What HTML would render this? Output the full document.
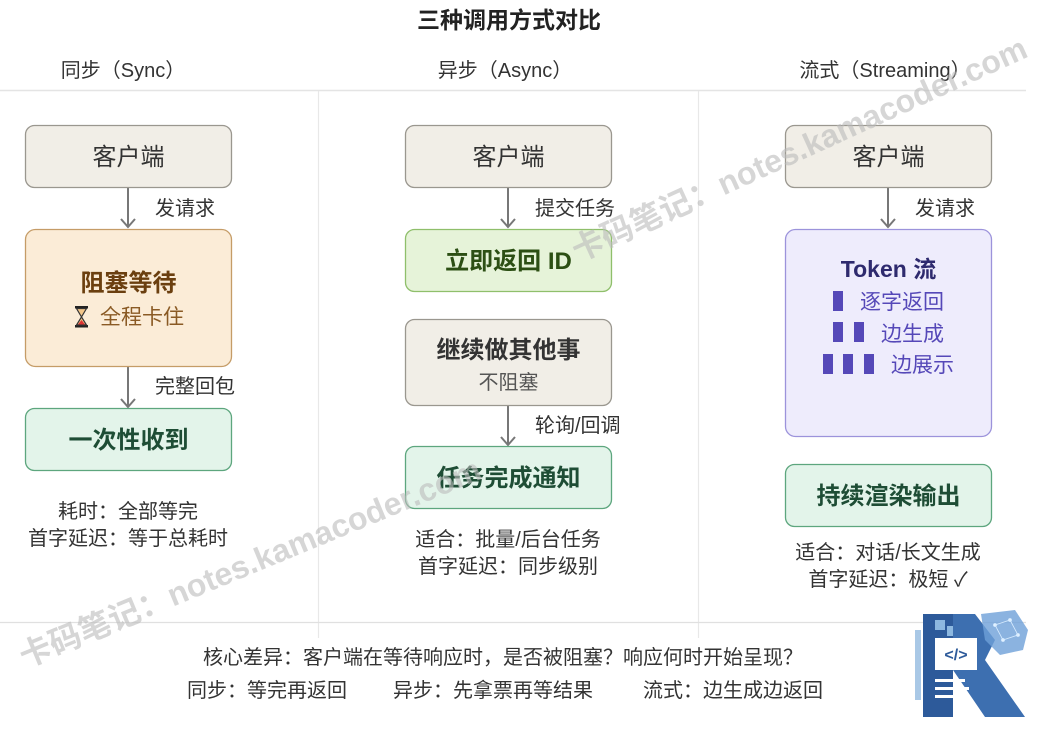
<!DOCTYPE html>
<html><head><meta charset="utf-8"><style>
html,body{margin:0;padding:0;background:#fff;}
svg text{font-family:"Liberation Sans","Noto Sans CJK SC",sans-serif;}
</style></head><body>
<svg width="1039" height="727" viewBox="0 0 1039 727" xmlns="http://www.w3.org/2000/svg">
<rect width="1039" height="727" fill="#fff"/>
<text x="509" y="28" font-size="23" font-weight="bold" fill="#222" text-anchor="middle">三种调用方式对比</text>
<g font-size="20" fill="#333" text-anchor="middle">
<text x="123" y="77">同步（Sync）</text>
<text x="505" y="77">异步（Async）</text>
<text x="885" y="77">流式（Streaming）</text>
</g>
<line x1="0" y1="90.5" x2="1026" y2="90.5" stroke="#e4e4e4" stroke-width="1.5"/>
<line x1="318.5" y1="91" x2="318.5" y2="638" stroke="#e8e8e8" stroke-width="1.2"/>
<line x1="698.5" y1="91" x2="698.5" y2="638" stroke="#e8e8e8" stroke-width="1.2"/>
<line x1="0" y1="622.5" x2="1026" y2="622.5" stroke="#e0e0e0" stroke-width="1.2"/>

<!-- arrows -->
<g stroke="#777" stroke-width="2" fill="none">
<path d="M128 187V227M121 219L128 227L135 219"/>
<path d="M128 366V407M121 399L128 407L135 399"/>
<path d="M508 187V227M501 219L508 227L515 219"/>
<path d="M508 405V445M501 437L508 445L515 437"/>
<path d="M888 187V227M881 219L888 227L895 219"/>
</g>
<g font-size="20" fill="#333">
<text x="155" y="215">发请求</text>
<text x="155" y="393">完整回包</text>
<text x="535" y="215">提交任务</text>
<text x="535" y="432">轮询/回调</text>
<text x="915" y="215">发请求</text>
</g>

<!-- column 1 -->
<rect x="25.5" y="125.5" width="206" height="62" rx="9" fill="#f1eee7" stroke="#9a978f" stroke-width="1.3"/>
<text x="128.5" y="165" font-size="24" fill="#333" text-anchor="middle">客户端</text>
<rect x="25.5" y="229.5" width="206" height="137" rx="10" fill="#fbecd7" stroke="#c59c67" stroke-width="1.3"/>
<text x="128.5" y="291" font-size="24" font-weight="bold" fill="#6b3f0f" text-anchor="middle">阻塞等待</text>
<text x="142" y="324" font-size="21" fill="#8a5a24" text-anchor="middle">全程卡住</text>
<g transform="translate(75,306)">
<rect x="0" y="0" width="13" height="2.5" fill="#222"/><rect x="0" y="19" width="13" height="2.5" fill="#222"/>
<path d="M1.5 2.5L11.5 2.5L6.5 11L11.5 19L1.5 19L6.5 11Z" fill="#f2c68a" stroke="#333" stroke-width="1.2"/>
<path d="M3 18.5L10 18.5L6.5 14Z" fill="#d33"/>
</g>
<rect x="25.5" y="408.5" width="206" height="62" rx="9" fill="#e3f4ea" stroke="#5da67e" stroke-width="1.3"/>
<text x="128.5" y="448" font-size="24" font-weight="bold" fill="#1e4d35" text-anchor="middle">一次性收到</text>
<g font-size="20" fill="#333" text-anchor="middle">
<text x="128" y="518">耗时：全部等完</text>
<text x="128" y="545">首字延迟：等于总耗时</text>
</g>

<!-- column 2 -->
<rect x="405.5" y="125.5" width="206" height="62" rx="9" fill="#f1eee7" stroke="#9a978f" stroke-width="1.3"/>
<text x="508.5" y="165" font-size="24" fill="#333" text-anchor="middle">客户端</text>
<rect x="405.5" y="229.5" width="206" height="62" rx="9" fill="#e6f3d9" stroke="#8fbf6b" stroke-width="1.3"/>
<text x="508.5" y="269" font-size="24" font-weight="bold" fill="#2c4f14" text-anchor="middle">立即返回 ID</text>
<rect x="405.5" y="319.5" width="206" height="86" rx="9" fill="#f1eee7" stroke="#9a978f" stroke-width="1.3"/>
<text x="508.5" y="358" font-size="24" font-weight="bold" fill="#333" text-anchor="middle">继续做其他事</text>
<text x="508.5" y="389" font-size="20" fill="#555" text-anchor="middle">不阻塞</text>
<rect x="405.5" y="446.5" width="206" height="62" rx="9" fill="#e3f4ea" stroke="#5da67e" stroke-width="1.3"/>
<text x="508.5" y="486" font-size="24" font-weight="bold" fill="#1e4d35" text-anchor="middle">任务完成通知</text>
<g font-size="20" fill="#333" text-anchor="middle">
<text x="508" y="546">适合：批量/后台任务</text>
<text x="508" y="573">首字延迟：同步级别</text>
</g>

<!-- column 3 -->
<rect x="785.5" y="125.5" width="206" height="62" rx="9" fill="#f1eee7" stroke="#9a978f" stroke-width="1.3"/>
<text x="888.5" y="165" font-size="24" fill="#333" text-anchor="middle">客户端</text>
<rect x="785.5" y="229.5" width="206" height="207" rx="10" fill="#eeecfc" stroke="#9c93db" stroke-width="1.3"/>
<text x="888.5" y="277" font-size="23" font-weight="bold" fill="#2e2a6e" text-anchor="middle">Token 流</text>
<g fill="#5548b8">
<rect x="833" y="291" width="10" height="20"/>
<rect x="833" y="322" width="10" height="20"/><rect x="854" y="322" width="10" height="20"/>
<rect x="823" y="354" width="10" height="20"/><rect x="843" y="354" width="10" height="20"/><rect x="864" y="354" width="10" height="20"/>
</g>
<g font-size="21" fill="#5548b8">
<text x="860" y="309">逐字返回</text>
<text x="881" y="341">边生成</text>
<text x="891" y="372">边展示</text>
</g>
<rect x="785.5" y="464.5" width="206" height="62" rx="9" fill="#e3f4ea" stroke="#5da67e" stroke-width="1.3"/>
<text x="888.5" y="504" font-size="24" font-weight="bold" fill="#1e4d35" text-anchor="middle">持续渲染输出</text>
<g font-size="20" fill="#333" text-anchor="middle">
<text x="888" y="559">适合：对话/长文生成</text>
<text x="888" y="586">首字延迟：极短 ✓</text>
</g>

<!-- bottom -->
<g font-size="20" fill="#333">
<text x="503" y="664" text-anchor="middle">核心差异：客户端在等待响应时，是否被阻塞？响应何时开始呈现？</text>
<text x="187" y="697">同步：等完再返回</text>
<text x="393" y="697">异步：先拿票再等结果</text>
<text x="643" y="697">流式：边生成边返回</text>
</g>

<!-- watermarks -->
<g fill="#bbbbbb" fill-opacity="0.6" font-size="32" font-weight="bold">
<text transform="translate(25,668) rotate(-22.5)">卡码笔记：notes.kamacoder.com</text>
<text transform="translate(578,262) rotate(-24.5)">卡码笔记：notes.kamacoder.com</text>
</g>

<!-- logo -->
<g transform="translate(915,600)">
<rect x="0" y="30" width="6" height="70" fill="#a9c8e6"/>
<rect x="8" y="14" width="30" height="103" fill="#2d5a9a"/>
<rect x="20" y="20" width="10" height="10" fill="#8db8e0"/><rect x="32" y="26" width="8" height="10" fill="#8db8e0"/>
<path d="M38 14L60 14L80 40L70 60L110 117L70 117L38 70Z" fill="#3d6fb0"/>
<path d="M66 14L100 10L113 30L108 50L85 55L70 40Z" fill="#6ea0d8" opacity="0.8"/>
<g stroke="#d8ecff" stroke-width="0.8" fill="#e8f4ff"><circle cx="80" cy="25" r="1.5"/><circle cx="95" cy="20" r="1.5"/><circle cx="103" cy="35" r="1.5"/><circle cx="88" cy="40" r="1.5"/><path d="M80 25L95 20L103 35L88 40Z" fill="none"/></g>
<rect x="20" y="38" width="42" height="32" fill="#fff"/>
<text x="41" y="60" font-size="16" font-weight="bold" fill="#2d5a9a" text-anchor="middle">&lt;/&gt;</text>
<rect x="20" y="79" width="30" height="3" fill="#fff"/><rect x="20" y="87" width="34" height="3" fill="#fff"/><rect x="20" y="95" width="28" height="3" fill="#fff"/>
</g>
</svg>
</body></html>
